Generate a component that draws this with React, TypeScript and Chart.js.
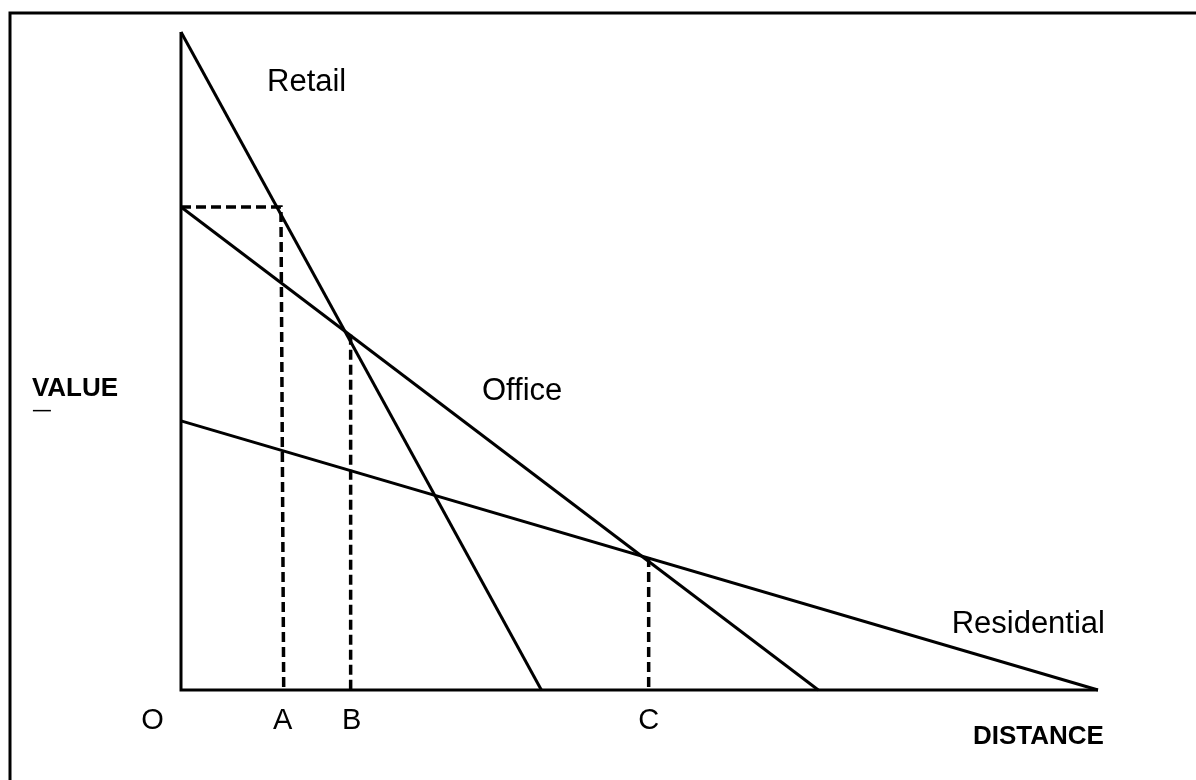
import React, { useEffect, useRef } from "react";
import { Chart, registerables } from "chart.js";

Chart.register(...registerables);

// Curve end points (distance, value), axes 0..100
const retailDistance = [0, 39.3];
const retailValue = [100, 0];
const officeDistance = [0, 69.5];
const officeValue = [73.4, 0];
const residentialDistance = [0, 100];
const residentialValue = [40.9, 0];

// Dashed guide lines
const guideADistance = [0, 10.9, 11.2];
const guideAValue = [73.4, 73.4, 0];
const guideBDistance = [18.5, 18.5];
const guideBValue = [54, 0];
const guideCDistance = [51, 51];
const guideCValue = [20.2, 0];

// Axes frame
const axisDistance = [0, 0, 100];
const axisValue = [100, 0, 0];

// Curve labels and their anchors (data units)
const curveNames = ["Retail", "Office", "Residential"];
const curveLabelX = [13.7, 37.2, 92.4];
const curveLabelY = [92.4, 45.3, 9.9];

// Distance markers on the axis
const markerNames = ["O", "A", "B", "C"];
const markerX = [-3.1, 11.1, 18.6, 51];

const yAxisTitle = "VALUE";
const xAxisTitle = "DISTANCE";

const pts = (xs: number[], ys: number[]) => xs.map((x, i) => ({ x, y: ys[i] }));

const FONT = '"Liberation Sans", Arial, Helvetica, sans-serif';

const textPlugin = {
  id: "diagramText",
  afterDatasetsDraw(chart: any) {
    const { ctx } = chart;
    const x = chart.scales.x;
    const y = chart.scales.y;
    ctx.save();
    // outer frame (top and left visible)
    ctx.strokeStyle = "#000";
    ctx.lineWidth = 3;
    ctx.beginPath();
    ctx.moveTo(10, chart.height + 5);
    ctx.lineTo(10, 13);
    ctx.lineTo(chart.width + 5, 13);
    ctx.stroke();

    ctx.fillStyle = "#000";
    ctx.textAlign = "center";
    ctx.textBaseline = "middle";
    ctx.font = `31px ${FONT}`;
    curveNames.forEach((t, i) => {
      ctx.fillText(t, x.getPixelForValue(curveLabelX[i]), y.getPixelForValue(curveLabelY[i]));
    });

    ctx.font = `29px ${FONT}`;
    const markerY = y.getPixelForValue(0) + 31;
    markerNames.forEach((t, i) => {
      ctx.fillText(t, x.getPixelForValue(markerX[i]), markerY);
    });

    ctx.font = `bold 26px ${FONT}`;
    const vx = 75;
    const vy = y.getPixelForValue(45.8);
    ctx.fillText(yAxisTitle, vx, vy);
    const vw = ctx.measureText(yAxisTitle).width;
    ctx.lineWidth = 1.5;
    ctx.beginPath();
    ctx.moveTo(vx - vw / 2 + 1, vy + 22);
    ctx.lineTo(vx - vw / 2 + 19, vy + 22);
    ctx.stroke();

    ctx.fillText(xAxisTitle, x.getPixelForValue(93.5), y.getPixelForValue(0) + 47);
    ctx.restore();
  },
};

export default function App() {
  const ref = useRef<HTMLCanvasElement>(null);
  useEffect(() => {
    if (!ref.current) return;
    const solid = { borderColor: "#000", borderWidth: 3, pointRadius: 0, tension: 0, fill: false, clip: false as const };
    const dashed = { ...solid, borderWidth: 3.5, borderDash: [10, 5] };
    const chart = new Chart(ref.current, {
      type: "line",
      data: {
        datasets: [
          { label: "axes", data: pts(axisDistance, axisValue), ...solid },
          { label: "Retail", data: pts(retailDistance, retailValue), ...solid },
          { label: "Office", data: pts(officeDistance, officeValue), ...solid },
          { label: "Residential", data: pts(residentialDistance, residentialValue), ...solid },
          { label: "A", data: pts(guideADistance, guideAValue), ...dashed },
          { label: "B", data: pts(guideBDistance, guideBValue), ...dashed },
          { label: "C", data: pts(guideCDistance, guideCValue), ...dashed },
        ],
      },
      options: {
        responsive: false,
        animation: false,
        devicePixelRatio: 1,
        layout: { padding: { left: 181, right: 98, top: 32, bottom: 90 } },
        scales: {
          x: { type: "linear", min: 0, max: 100, display: false },
          y: { type: "linear", min: 0, max: 100, display: false },
        },
        plugins: { legend: { display: false }, tooltip: { enabled: false } },
      },
      plugins: [textPlugin],
    });
    return () => chart.destroy();
  }, []);
  return (
    <div style={{ position: "absolute", left: 0, top: 0, width: 1196, height: 780, background: "#fff" }}>
      <canvas ref={ref} width={1196} height={780} />
    </div>
  );
}
